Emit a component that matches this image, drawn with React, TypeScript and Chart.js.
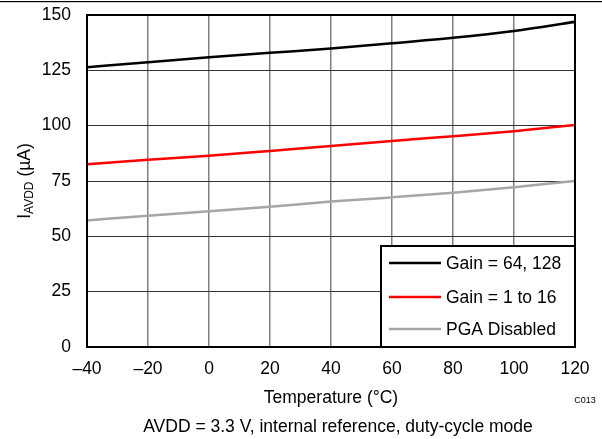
import React, { useEffect, useRef } from "react";
import { Chart, registerables } from "chart.js";

Chart.register(...registerables);

const temperatures = [-40, -20, 0, 20, 40, 60, 80, 100, 120];
const gain64to128 = [126.4, 128.7, 130.9, 132.9, 134.9, 137.2, 139.7, 142.8, 146.9];
const gain1to16 = [82.6, 84.6, 86.4, 88.6, 90.8, 93.1, 95.2, 97.5, 100.3];
const pgaDisabled = [57.2, 59.3, 61.3, 63.4, 65.7, 67.6, 69.7, 72.2, 75.0];

const seriesLabels = ["Gain = 64, 128", "Gain = 1 to 16", "PGA Disabled"];
const seriesColors = ["#000000", "#ff0000", "#a6a6a6"];

const xTitle = "Temperature (\u00b0C)";
const caption = "AVDD = 3.3 V, internal reference, duty-cycle mode";
const figId = "C013";

const FONT = "'Liberation Sans', Arial, sans-serif";

const toPts = (ys: number[]) => temperatures.map((x, i) => ({ x, y: ys[i] }));

const decorPlugin = {
  id: "decor",
  afterDatasetsDraw(chart: any) {
    const { ctx, chartArea } = chart;
    const { left, right, top, bottom } = chartArea;
    ctx.save();
    // legend box
    const lw = 194;
    const lh = 101;
    const lx = right - lw;
    const ly = bottom - lh;
    ctx.fillStyle = "#ffffff";
    ctx.fillRect(lx, ly, lw, lh);
    ctx.strokeStyle = "#000";
    ctx.lineWidth = 2;
    ctx.strokeRect(lx, ly, lw, lh);
    const rows = [17, 51, 83];
    ctx.font = `17.5px ${FONT}`;
    ctx.textBaseline = "middle";
    ctx.textAlign = "left";
    chart.data.datasets.forEach((ds: any, i: number) => {
      const y = ly + rows[i];
      ctx.strokeStyle = ds.borderColor;
      ctx.lineWidth = 2.5;
      ctx.beginPath();
      ctx.moveTo(lx + 8, y);
      ctx.lineTo(lx + 60, y);
      ctx.stroke();
      ctx.fillStyle = "#000";
      ctx.fillText(ds.label, lx + 65, y + 1);
    });
    // plot border
    ctx.strokeStyle = "#000";
    ctx.lineWidth = 2;
    ctx.strokeRect(left, top, right - left, bottom - top);
    // top rule
    ctx.fillStyle = "#000";
    ctx.fillRect(0, 1, 602, 1.2);
    // x title
    ctx.fillStyle = "#000";
    ctx.font = `17.5px ${FONT}`;
    ctx.textAlign = "center";
    ctx.textBaseline = "middle";
    ctx.fillText(xTitle, (left + right) / 2, 398);
    // caption
    ctx.font = `17.5px ${FONT}`;
    ctx.fillText(caption, 338, 427);
    // fig id
    ctx.font = `9px ${FONT}`;
    ctx.fillText(figId, 585, 401);
    // y title with subscript
    ctx.translate(25, (top + bottom) / 2);
    ctx.rotate(-Math.PI / 2);
    ctx.textAlign = "left";
    ctx.textBaseline = "middle";
    const p1 = "I";
    const p2 = "AVDD";
    const p3 = " (\u00b5A)";
    ctx.font = `17.5px ${FONT}`;
    const w1 = ctx.measureText(p1).width;
    const w3 = ctx.measureText(p3).width;
    ctx.font = `12px ${FONT}`;
    const w2 = ctx.measureText(p2).width;
    const total = w1 + w2 + w3;
    let x0 = -total / 2;
    ctx.font = `17.5px ${FONT}`;
    ctx.fillText(p1, x0, 0);
    x0 += w1;
    ctx.font = `12px ${FONT}`;
    ctx.fillText(p2, x0, 5);
    x0 += w2;
    ctx.font = `17.5px ${FONT}`;
    ctx.fillText(p3, x0, 0);
    ctx.restore();
  },
};

export default function App() {
  const ref = useRef<HTMLCanvasElement | null>(null);
  useEffect(() => {
    document.body.style.margin = "0";
    const canvas = ref.current;
    if (!canvas) return;
    const chart = new Chart(canvas, {
      type: "line",
      data: {
        datasets: [gain64to128, gain1to16, pgaDisabled].map((ys, i) => ({
          label: seriesLabels[i],
          data: toPts(ys),
          borderColor: seriesColors[i],
          backgroundColor: seriesColors[i],
          borderWidth: 2.5,
          pointRadius: 0,
          cubicInterpolationMode: "monotone" as const,
          fill: false,
        })),
      },
      options: {
        responsive: false,
        animation: false,
        layout: { padding: { top: 15, right: 27, left: 0, bottom: 0 } },
        plugins: { legend: { display: false }, tooltip: { enabled: false } },
        scales: {
          x: {
            type: "linear",
            min: -40,
            max: 120,
            afterFit: (s: any) => {
              s.height = 92;
              s.paddingLeft = 0;
              s.paddingRight = 0;
            },
            afterBuildTicks: (s: any) => {
              s.ticks = temperatures.map((v) => ({ value: v }));
            },
            ticks: {
              padding: 12,
              color: "#000",
              font: { family: FONT, size: 17.5 },
              maxRotation: 0,
              autoSkip: false,
              callback: (v: any) => (v < 0 ? "\u2013" + Math.abs(v) : String(v)),
            },
            grid: { color: "#808080", lineWidth: 1.5, drawTicks: false },
            border: { display: false },
          },
          y: {
            type: "linear",
            min: 0,
            max: 150,
            afterFit: (s: any) => {
              s.width = 87;
              s.paddingTop = 0;
              s.paddingBottom = 0;
            },
            ticks: {
              stepSize: 25,
              padding: 16,
              color: "#000",
              font: { family: FONT, size: 17.5 },
            },
            grid: { color: "#333333", lineWidth: 1, drawTicks: false },
            border: { display: false },
          },
        },
      },
      plugins: [decorPlugin],
    });
    return () => chart.destroy();
  }, []);
  return (
    <div style={{ position: "absolute", left: 0, top: 0, width: 602, height: 439, background: "#fff" }}>
      <canvas ref={ref} width={602} height={439} />
    </div>
  );
}
